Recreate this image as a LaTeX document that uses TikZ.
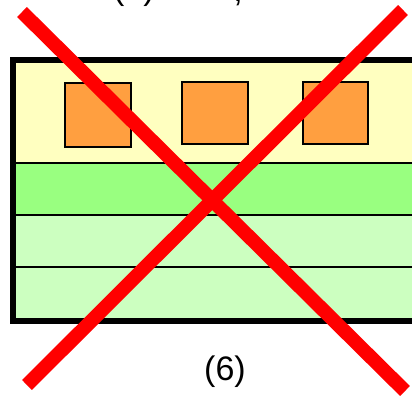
\documentclass[tikz,border=0pt]{standalone}
\usepackage{fontspec}
\setmainfont{Liberation Sans}
\definecolor{paleyellow}{HTML}{FFFFC0}
\definecolor{bandgreen}{HTML}{99FF80}
\definecolor{palegreen}{HTML}{CCFFC0}
\definecolor{blockorange}{HTML}{FF9F40}
\begin{document}
\begin{tikzpicture}[x=1pt,y=-1pt,
  band/.style={draw=black,line width=2pt},
  block/.style={draw=black,line width=2pt,fill=blockorange},
  cross/.style={draw=red,line width=14pt,line cap=butt},
  label/.style={font=\fontsize{34}{40}\selectfont,inner sep=0pt,anchor=base}]
\useasboundingbox (0,0) rectangle (412,397);
\clip (0,0) rectangle (412,397);

% caption of the previous panel, mostly above the page
\node[label] (prevcap) at (134,-1) {(5)};
\node[label] (prevcomma) at (238,1.5) {,};

% layered stack
\fill[paleyellow] (13,59.5) rectangle (430,163);
\fill[bandgreen] (13,163) rectangle (430,215);
\fill[palegreen] (13,215) rectangle (430,321);
\draw[band] (13,163) -- (430,163);
\draw[band] (13,215) -- (430,215);
\draw[band] (13,267) -- (430,267);

% blocks on the top layer
\draw[block] (65,83) rectangle (131,147);
\draw[block] (182,82) rectangle (248,144);
\draw[block] (303,82) rectangle (368,144);

% outer frame
\draw[line width=6pt] (430,59.5) -- (13,59.5) -- (13,321) -- (430,321);

% crossing-out
\draw[cross] (22,12) -- (405,391);
\draw[cross] (403,10) -- (27,385);

\node[label] (cap) at (225,380) {(6)};
\end{tikzpicture}
\end{document}
